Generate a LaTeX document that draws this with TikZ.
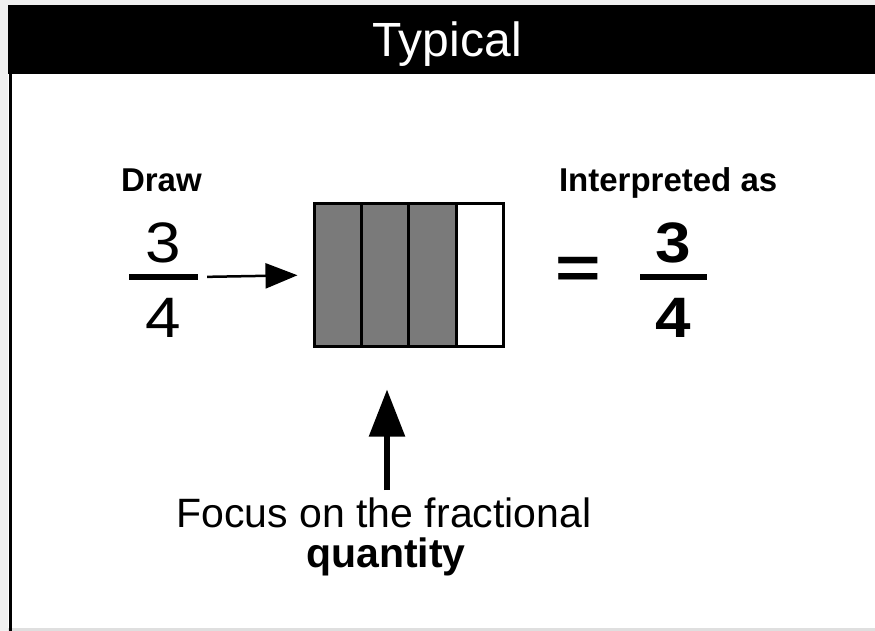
\documentclass[tikz,border=0pt]{standalone}
\usepackage{fontspec}
\setmainfont{Liberation Sans}
\usetikzlibrary{arrows.meta}
\begin{document}
\begin{tikzpicture}[x=1pt,y=-1pt,
  txt/.style={inner sep=0pt,outer sep=0pt},
  digit/.style={txt,font=\fontsize{57}{60}\selectfont,xscale=1.12},
  bdigit/.style={txt,font=\fontsize{57}{60}\selectfont\bfseries,xscale=1.12},
  fracbar/.style={fill=black,inner sep=0pt,minimum width=69pt},
  cell/.style={draw=black,line width=3pt},
]
\useasboundingbox (0,0) rectangle (875,631);
\fill[white] (0,0) rectangle (875,631);
\fill[gray!12] (0,0) rectangle (8,631);
\fill[gray!12] (0,0) rectangle (875,5);
\fill[gray!25] (8,628) rectangle (875,631);
% header
\fill[black] (8,5) rectangle (875,74);
\draw[line width=3pt] (10,74) -- (10,631);
\node[txt,anchor=base,text=white,font=\fontsize{48}{50}\selectfont] (title) at (447,57) {Typical};
% labels
\node[txt,anchor=base west,font=\fontsize{33}{36}\selectfont\bfseries] (draw) at (121,192) {Draw};
\node[txt,anchor=base west,font=\fontsize{33}{36}\selectfont\bfseries] (interp) at (559,192) {Interpreted as};
% left fraction
\node[digit,anchor=base] (n1) at (163,262) {3};
\node[fracbar,minimum height=5.5pt] (bar1) at (163.5,277) {};
\node[digit,anchor=base] (d1) at (163,337) {4};
% box
\fill[black!52] (314,204) rectangle (456,346);
\node[cell,minimum width=189pt,minimum height=142pt,inner sep=0pt] (box) at (408.5,275) {};
\draw[line width=3pt] (361,204) -- (361,346) (408,204) -- (408,346) (456,204) -- (456,346);
% left arrow
\draw[line width=2.5pt,-{Triangle[length=32pt,width=25pt]},shorten <=9pt,shorten >=15pt] (bar1.east) -- (box.west);
% equals and right fraction
\node[txt,font=\fontsize{60}{60}\selectfont\bfseries,xscale=1.3,anchor=center] (eq) at (578,273) {=};
\node[bdigit,anchor=base] (n2) at (673,262) {3};
\node[fracbar,minimum width=67pt,minimum height=6pt] (bar2) at (673.5,277) {};
\node[bdigit,anchor=base] (d2) at (673,337) {4};
% bottom text
\node[txt,anchor=base,font=\fontsize{41}{44}\selectfont] (focus) at (384,527) {Focus on the fractional};
\node[txt,anchor=base,font=\fontsize{41}{44}\selectfont\bfseries] (qty) at (386,567) {quantity};
\coordinate (upstart) at (387,490);
\draw[line width=5.5pt,-{Triangle[length=47pt,width=35pt]},shorten >=42pt] (upstart) -- (box.south -| upstart);
\end{tikzpicture}
\end{document}
